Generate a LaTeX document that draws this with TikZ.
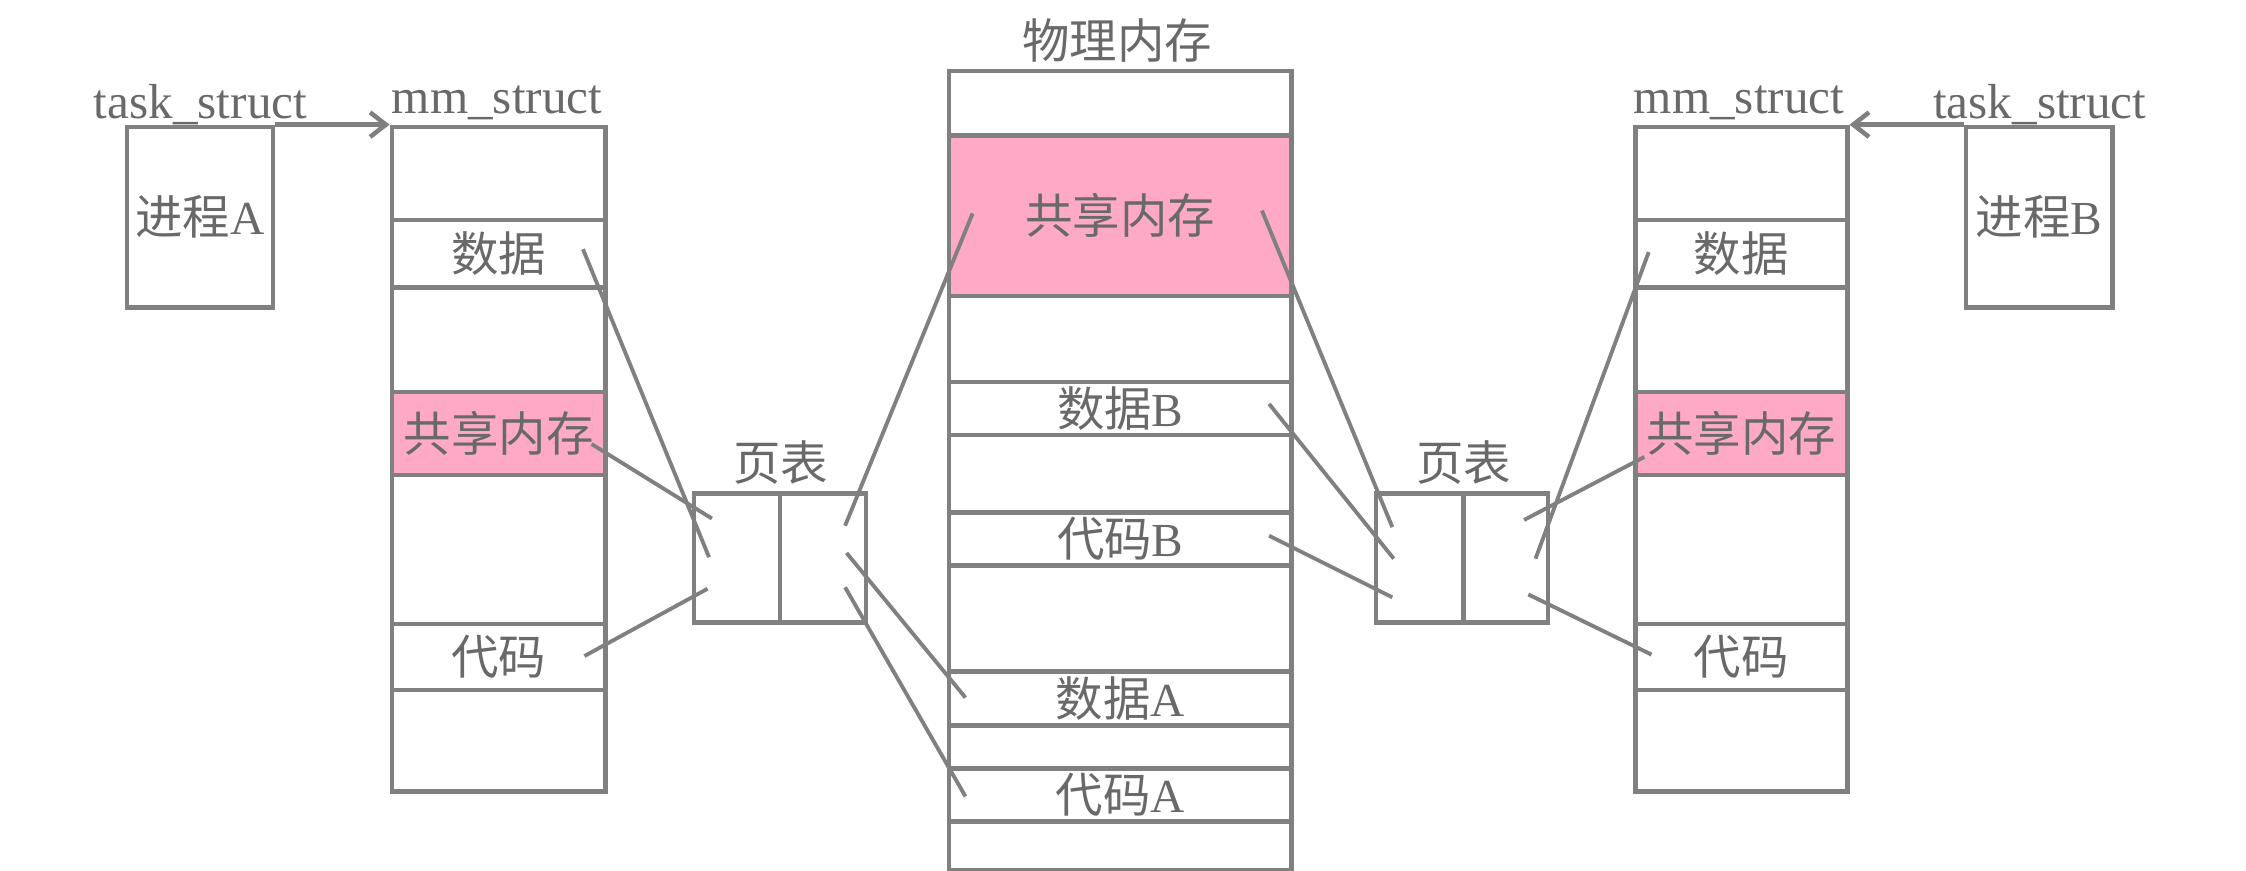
\documentclass[tikz,border=0pt]{standalone}
\usepackage{fontspec}
\setmainfont{Liberation Serif}
\newfontfamily\cjk{Noto Sans CJK SC}
\usetikzlibrary{arrows.meta}
\definecolor{lc}{RGB}{128,128,128}
\definecolor{tc}{RGB}{105,105,105}
\definecolor{pk}{RGB}{254,170,198}
\def\un{0.014324cm}
\newcommand\zh[1]{{\cjk #1}}
% \mkcell[opts]{x1}{y1}{x2}{y2}{name}{text}
\newcommand\mkcell[6][]{\node[cell,#1,minimum width={(#4-#2)*\un},minimum height={(#5-#3)*\un}] (#6) at (#2,#3)}
\begin{document}
\begin{tikzpicture}[x=\un,y=-\un,
  cell/.style={draw=lc,line width=1.3pt,inner sep=0pt,anchor=north west,text=tc,
    font=\fontsize{13.5pt}{16pt}\selectfont},
  shm/.style={fill=pk},
  lbl/.style={text=tc,inner sep=0pt,font=\fontsize{14pt}{16pt}\selectfont},
  zlbl/.style={text=tc,inner sep=0pt,font=\fontsize{13.5pt}{16pt}\selectfont\cjk},
  conn/.style={draw=lc,line width=1.1pt},
  ptr/.style={draw=lc,line width=1.3pt,-{Straight Barb[length=4.5pt,width=7pt,line width=1.3pt]}}]
\useasboundingbox (0,0) rectangle (1568,608);

% ---------- process A ----------
\node[lbl] (tsA) at (140,73) {task\_struct};
\mkcell{87}{87}{189}{213}{taskA}{\zh{进程}A};
\node[lbl] (msA) at (347,72) {mm\_struct};
\mkcell{272}{87}{421}{152}{mmAtop}{};
\mkcell{272}{152}{421}{199}{mmAdata}{\zh{数据}};
\mkcell{272}{199}{421}{272}{mmAg1}{};
\mkcell[shm]{272}{272}{421}{330}{mmAshm}{\zh{共享内存}};
\mkcell{272}{330}{421}{434}{mmAg2}{};
\mkcell{272}{434}{421}{480}{mmAcode}{\zh{代码}};
\mkcell{272}{480}{421}{551}{mmAbot}{};
\draw[ptr] (taskA.north east) -- (mmAtop.north west);

% ---------- page table A ----------
\node[zlbl] (ptAl) at (545,323) {页表};
\mkcell{483}{343}{543}{433}{ptAL}{};
\mkcell{543}{343}{603}{433}{ptAR}{};

% ---------- physical memory ----------
\node[zlbl] (pmlbl) at (780,28) {物理内存};
\mkcell{661}{48}{900}{93}{pm0}{};
\mkcell[shm]{661}{93}{900}{205}{pmshm}{\zh{共享内存}};
\mkcell{661}{205}{900}{265}{pm1}{};
\mkcell{661}{265}{900}{302}{pmdB}{\zh{数据}B};
\mkcell{661}{302}{900}{356}{pm2}{};
\mkcell{661}{356}{900}{393}{pmcB}{\zh{代码}B};
\mkcell{661}{393}{900}{467}{pm3}{};
\mkcell{661}{467}{900}{505}{pmdA}{\zh{数据}A};
\mkcell{661}{505}{900}{535}{pm4}{};
\mkcell{661}{535}{900}{572}{pmcA}{\zh{代码}A};
\mkcell{661}{572}{900}{606}{pm5}{};

% ---------- page table B ----------
\node[zlbl] (ptBl) at (1022,323) {页表};
\mkcell{959}{343}{1020}{433}{ptBL}{};
\mkcell{1020}{343}{1079}{433}{ptBR}{};

% ---------- process B ----------
\node[lbl] (msB) at (1214,72) {mm\_struct};
\mkcell{1140}{87}{1288}{152}{mmBtop}{};
\mkcell{1140}{152}{1288}{199}{mmBdata}{\zh{数据}};
\mkcell{1140}{199}{1288}{272}{mmBg1}{};
\mkcell[shm]{1140}{272}{1288}{330}{mmBshm}{\zh{共享内存}};
\mkcell{1140}{330}{1288}{434}{mmBg2}{};
\mkcell{1140}{434}{1288}{480}{mmBcode}{\zh{代码}};
\mkcell{1140}{480}{1288}{551}{mmBbot}{};
\node[lbl] (tsB) at (1424,73) {task\_struct};
\mkcell{1371}{87}{1473}{213}{taskB}{\zh{进程}B};
\draw[ptr] (taskB.north west) -- (mmBtop.north east);

% ---------- connector end points ----------
\coordinate (a1) at (407,174);  \coordinate (a2) at (495,389);
\coordinate (b1) at (413,310);  \coordinate (b2) at (497,362);
\coordinate (d1) at (408,458);  \coordinate (d2) at (494,411);
\coordinate (e1) at (590,367);  \coordinate (e2) at (679,149);
\coordinate (f1) at (591,386);  \coordinate (f2) at (674,487);
\coordinate (g1) at (590,410);  \coordinate (g2) at (674,556);
\coordinate (h1) at (881,147);  \coordinate (h2) at (972,368);
\coordinate (i1) at (886,282);  \coordinate (i2) at (973,390);
\coordinate (j1) at (886,374);  \coordinate (j2) at (972,417);
\coordinate (k1) at (1064,363); \coordinate (k2) at (1148,319);
\coordinate (l1) at (1072,390); \coordinate (l2) at (1151,176);
\coordinate (m1) at (1067,415); \coordinate (m2) at (1153,457);

\draw[conn] (a1) -- (a2);
\draw[conn] (b1) -- (b2);
\draw[conn] (d1) -- (d2);
\draw[conn] (e1) -- (e2);
\draw[conn] (f1) -- (f2);
\draw[conn] (g1) -- (g2);
\draw[conn] (h1) -- (h2);
\draw[conn] (i1) -- (i2);
\draw[conn] (j1) -- (j2);
\draw[conn] (k1) -- (k2);
\draw[conn] (l1) -- (l2);
\draw[conn] (m1) -- (m2);
\end{tikzpicture}
\end{document}
